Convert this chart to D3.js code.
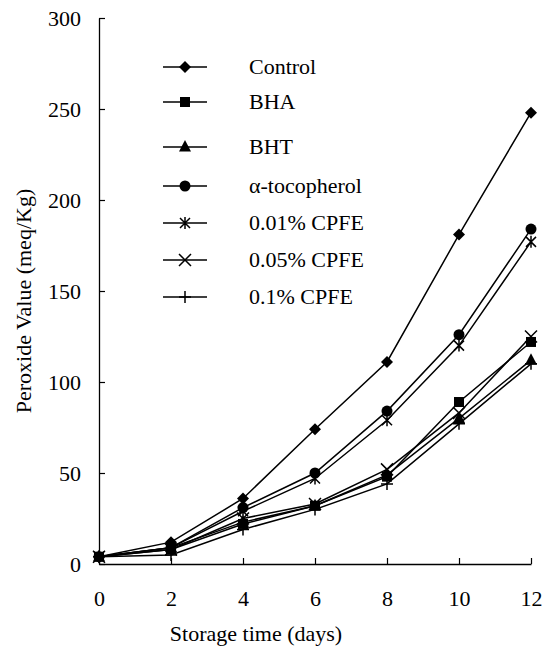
<!DOCTYPE html>
<html>
<head>
<meta charset="utf-8">
<script src="https://cdn.jsdelivr.net/npm/d3@7"></script>
<style>
  html, body { margin: 0; padding: 0; background: #fff; }
  svg text { font-family: "Liberation Serif", "Times New Roman", serif; fill: #000; }
</style>
</head>
<body>
<svg id="chart" width="547" height="652"></svg>
<script>
// Storage days on the x axis
const days = [0, 2, 4, 6, 8, 10, 12];

// Peroxide value (meq/Kg) for each treatment
const control     = [4, 12, 36, 74, 111, 181, 248];
const bha         = [4, 8, 22, 32, 48, 89, 122];
const bht         = [4, 9, 23, 32, 49, 80, 112];
const tocopherol  = [4, 9, 31, 50, 84, 126, 184];
const cpfe001     = [4, 9, 29, 47, 79, 120, 177];
const cpfe005     = [4, 8, 25, 33, 52, 83, 125];
const cpfe01      = [4, 5, 19, 30, 44, 77, 110];

const seriesNames = ["Control", "BHA", "BHT", "\u03b1-tocopherol", "0.01% CPFE", "0.05% CPFE", "0.1% CPFE"];
const seriesValues = [control, bha, bht, tocopherol, cpfe001, cpfe005, cpfe01];
const markerKinds = ["diamond", "square", "triangle", "circle", "asterisk", "cross", "plus"];

const xTicks = [0, 2, 4, 6, 8, 10, 12];
const yTicks = [0, 50, 100, 150, 200, 250, 300];

const FONT = 22;
const svg = d3.select("#chart");
const plotLeft = 99, plotRight = 531, plotTop = 18, plotBottom = 564;

const x = d3.scaleLinear().domain([0, 12]).range([plotLeft, plotRight]);
const y = d3.scaleLinear().domain([0, 300]).range([plotBottom, plotTop]);

// Axes: ticks point into the plot
const xAxis = d3.axisBottom(x).tickValues(xTicks).tickSizeInner(-6).tickSizeOuter(0).tickPadding(26);
const yAxis = d3.axisLeft(y).tickValues(yTicks).tickSizeInner(-6).tickSizeOuter(0).tickPadding(18);

const gx = svg.append("g").attr("transform", `translate(0,${plotBottom})`).call(xAxis);
const gy = svg.append("g").attr("transform", `translate(${plotLeft},0)`).call(yAxis);
[gx, gy].forEach(g => {
  g.select(".domain").attr("stroke", "#000").attr("stroke-width", 1.3);
  g.selectAll(".tick line").attr("stroke", "#000").attr("stroke-width", 1.2);
  g.selectAll(".tick text").attr("font-size", FONT).attr("font-family", "Liberation Serif");
});

// Axis titles
svg.append("text")
  .attr("x", 256).attr("y", 641)
  .attr("text-anchor", "middle").attr("font-size", FONT)
  .text("Storage time (days)");
svg.append("text")
  .attr("transform", `translate(31,${(plotTop + plotBottom) / 2 + 10}) rotate(-90)`)
  .attr("text-anchor", "middle").attr("font-size", FONT)
  .text("Peroxide Value (meq/Kg)");

// Marker drawing
function drawMarker(g, kind, cx, cy) {
  const s = g.append("g").attr("transform", `translate(${cx},${cy})`);
  if (kind === "diamond") {
    s.append("path").attr("d", "M0,-6L6,0L0,6L-6,0Z").attr("fill", "#000");
  } else if (kind === "square") {
    s.append("rect").attr("x", -5).attr("y", -5).attr("width", 10).attr("height", 10).attr("fill", "#000");
  } else if (kind === "triangle") {
    s.append("path").attr("d", "M0,-7L6,4.5L-6,4.5Z").attr("fill", "#000");
  } else if (kind === "circle") {
    s.append("circle").attr("r", 5.5).attr("fill", "#000");
  } else if (kind === "asterisk") {
    s.append("path").attr("d", "M-5,-5L5,5M5,-5L-5,5M0,-6L0,6").attr("stroke", "#000").attr("stroke-width", 1.5).attr("fill", "none");
  } else if (kind === "cross") {
    s.append("path").attr("d", "M-6,-6L6,6M6,-6L-6,6").attr("stroke", "#000").attr("stroke-width", 1.5).attr("fill", "none");
  } else if (kind === "plus") {
    s.append("path").attr("d", "M-6,0L6,0M0,-6L0,6").attr("stroke", "#000").attr("stroke-width", 1.5).attr("fill", "none");
  }
}

const line = d3.line().x((d, i) => x(days[i])).y(d => y(d));

const plot = svg.append("g");
seriesValues.forEach((vals, k) => {
  plot.append("path").datum(vals)
    .attr("d", line)
    .attr("fill", "none").attr("stroke", "#000").attr("stroke-width", 1.5);
});
seriesValues.forEach((vals, k) => {
  vals.forEach((v, i) => drawMarker(plot, markerKinds[k], x(days[i]), y(v)));
});

// Legend
const legendRows = [67, 102, 147, 186, 223, 260, 297];
const legend = svg.append("g");
seriesNames.forEach((name, k) => {
  const ly = legendRows[k];
  legend.append("line").attr("x1", 163).attr("x2", 207).attr("y1", ly).attr("y2", ly)
    .attr("stroke", "#000").attr("stroke-width", 1.5);
  drawMarker(legend, markerKinds[k], 185, ly);
  legend.append("text").attr("x", 249).attr("y", ly + 7).attr("font-size", FONT).text(name);
});
</script>
</body>
</html>
